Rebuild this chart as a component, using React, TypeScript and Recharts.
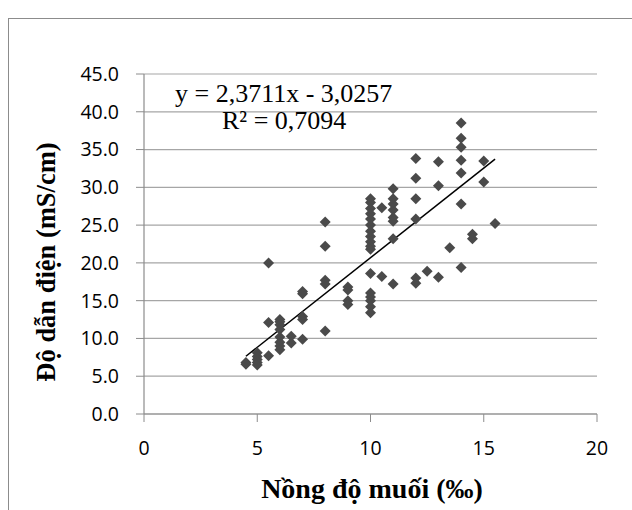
import { ScatterChart, Scatter, XAxis, YAxis, CartesianGrid, ReferenceLine } from "recharts"

// nồng độ muối (‰) và độ dẫn điện (mS/cm)
const salinity = [
  4.5, 4.5,
  5, 5, 5, 5, 5,
  5.5, 5.5, 5.5,
  6, 6, 6, 6, 6, 6, 6, 6,
  6.5, 6.5,
  7, 7, 7, 7, 7,
  8, 8, 8, 8, 8,
  9, 9, 9, 9,
  10, 10, 10, 10, 10, 10, 10, 10, 10, 10, 10, 10, 10, 10, 10, 10, 10,
  10.5, 10.5,
  11, 11, 11, 11, 11, 11, 11, 11,
  12, 12, 12, 12, 12, 12,
  12.5,
  13, 13, 13,
  13.5,
  14, 14, 14, 14, 14, 14, 14,
  14.5, 14.5,
  15, 15,
  15.5,
]

const conductivity = [
  6.8, 6.6,
  8.1, 7.6, 7.2, 6.8, 6.5,
  20.0, 12.1, 7.7,
  12.5, 12.2, 11.8, 11.2, 10.2, 9.5, 9.0, 8.5,
  10.3, 9.4,
  16.2, 15.9, 12.9, 12.5, 9.9,
  25.4, 22.2, 17.7, 17.2, 11.0,
  16.8, 16.4, 15.0, 14.5,
  28.5, 28.0, 27.2, 26.5, 25.8, 25.0, 24.2, 23.5, 22.8, 22.2, 21.8, 18.6, 16.0, 15.5, 15.0, 14.2, 13.4,
  27.3, 18.2,
  29.8, 28.5, 27.8, 27.0, 26.0, 25.5, 23.2, 17.2,
  33.8, 31.2, 28.5, 25.8, 18.0, 17.3,
  18.9,
  33.4, 30.2, 18.1,
  22.0,
  38.5, 36.5, 35.3, 33.6, 31.9, 27.8, 19.4,
  23.8, 23.2,
  33.5, 30.7,
  25.2,
]

const xTicks = [0, 5, 10, 15, 20]
const yTicks = [0, 5, 10, 15, 20, 25, 30, 35, 40, 45]

// đường xu hướng: y = 2,3711x - 3,0257
const slope = 2.3711
const intercept = -3.0257
const trendRange = [4.5, 15.5]

const points = salinity.map((x, i) => ({ x, y: conductivity[i] }))

function Diamond({ cx, cy }: { cx?: number; cy?: number }) {
  if (cx == null || cy == null) return null
  const r = 5.5
  return (
    <polygon
      points={`${cx},${cy - r} ${cx + r},${cy} ${cx},${cy + r} ${cx - r},${cy}`}
      fill="#4a4a4a"
    />
  )
}

const tickStyle = { fill: "#000", fontSize: 19.5, fontFamily: "'Open Sans', sans-serif" }
const serif = "'Liberation Serif', 'Times New Roman', serif"

export default function App() {
  return (
    <div style={{ position: "absolute", left: 0, top: 0, width: 632, height: 510, background: "#fff", overflow: "hidden" }}>
      <div
        style={{
          position: "absolute",
          left: 8,
          top: 18,
          width: 640,
          height: 510,
          borderLeft: "1.5px solid #8c8c8c",
          borderTop: "1.5px solid #8c8c8c",
        }}
      />
      <ScatterChart width={632} height={510} margin={{ top: 74, right: 35, bottom: 56, left: 84 }}>
        <CartesianGrid horizontal vertical={false} stroke="#a6a6a6" strokeWidth={1.2} />
        <XAxis
          type="number"
          dataKey="x"
          domain={[0, 20]}
          ticks={xTicks}
          height={40}
          tick={tickStyle}
          tickSize={8}
          tickMargin={19}
          axisLine={{ stroke: "#8c8c8c", strokeWidth: 1.2 }}
          tickLine={{ stroke: "#8c8c8c" }}
        />
        <YAxis
          type="number"
          dataKey="y"
          domain={[0, 45]}
          ticks={yTicks}
          width={60}
          tick={tickStyle}
          tickSize={8}
          tickMargin={17}
          tickFormatter={(v: number) => v.toFixed(1)}
          axisLine={{ stroke: "#8c8c8c", strokeWidth: 1.2 }}
          tickLine={{ stroke: "#8c8c8c" }}
        />
        <Scatter data={points} shape={<Diamond />} isAnimationActive={false} />
        <ReferenceLine
          segment={[
            { x: trendRange[0], y: slope * trendRange[0] + intercept },
            { x: trendRange[1], y: slope * trendRange[1] + intercept },
          ]}
          stroke="#000"
          strokeWidth={1.5}
        />
      </ScatterChart>
      <div
        style={{
          position: "absolute",
          left: 46,
          top: 262,
          transform: "translate(-50%, -50%) rotate(-90deg)",
          whiteSpace: "nowrap",
          fontFamily: serif,
          fontWeight: "bold",
          fontSize: 26.5,
        }}
      >
        Độ dẫn điện (mS/cm)
      </div>
      <div
        style={{
          position: "absolute",
          left: 372,
          top: 489,
          transform: "translate(-50%, -50%)",
          whiteSpace: "nowrap",
          fontFamily: serif,
          fontWeight: "bold",
          fontSize: 28,
        }}
      >
        Nồng độ muối (‰)
      </div>
      <div style={{ position: "absolute", left: 175, top: 79, fontFamily: serif, fontSize: 26, whiteSpace: "nowrap" }}>
        y = 2,3711x - 3,0257
      </div>
      <div style={{ position: "absolute", left: 222, top: 106, fontFamily: serif, fontSize: 26, whiteSpace: "nowrap" }}>
        R² = 0,7094
      </div>
    </div>
  )
}
